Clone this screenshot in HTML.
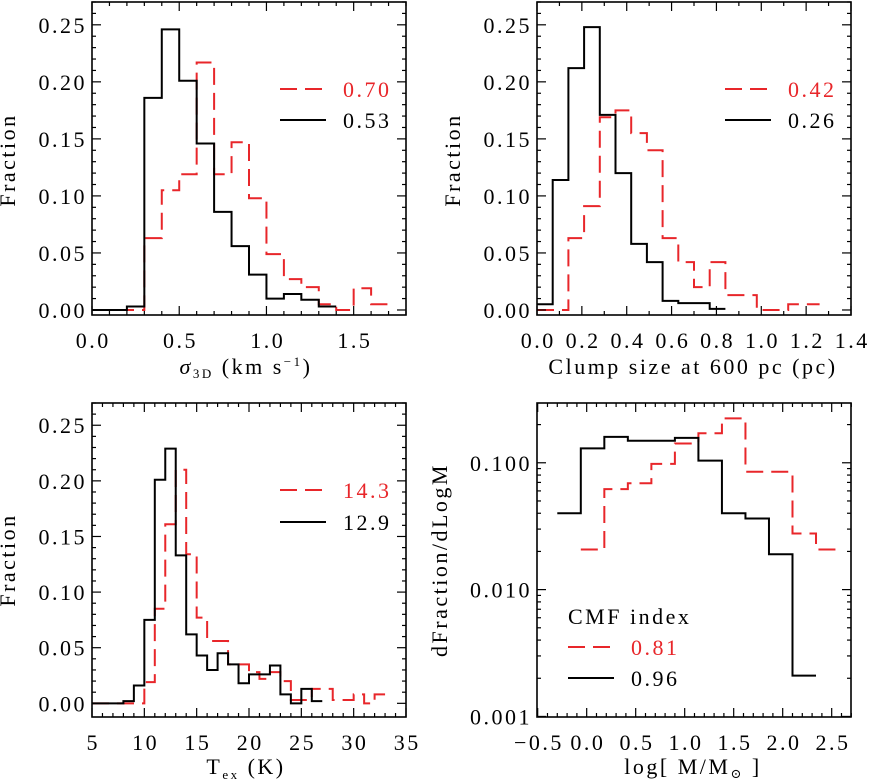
<!DOCTYPE html>
<html><head><meta charset="utf-8">
<style>
html,body{margin:0;padding:0;background:#fff;}
svg{display:block;font-family:"Liberation Serif","DejaVu Serif",serif;}
</style></head>
<body>
<svg id="fig" width="869" height="783" viewBox="0 0 869 783" xmlns="http://www.w3.org/2000/svg"></svg>
<script>
// Panel 1: sigma_3D
const p1Edges = [0.0,0.1,0.2,0.3,0.4,0.5,0.6,0.7,0.8,0.9,1.0,1.1,1.2,1.3,1.4,1.5,1.6,1.7];
const p1Black = [0,0,0.003,0.186,0.246,0.201,0.146,0.086,0.056,0.031,0.010,0.014,0.009,0.003,null,null,null];
const p1Red = [0,0,0,0.063,0.105,0.119,0.217,0.119,0.147,0.098,0.049,0.027,0.020,0.005,0,0.019,0.005];
const p1XTicks = ["0.0","0.5","1.0","1.5"];
const p1YTicks = ["0.00","0.05","0.10","0.15","0.20","0.25"];
// Panel 2: clump size
const p2Edges = [0,0.07,0.14,0.21,0.28,0.35,0.42,0.49,0.56,0.63,0.70,0.77,0.84,0.91,0.98,1.05,1.12,1.19,1.26];
const p2Black = [0.005,0.114,0.212,0.248,0.171,0.120,0.058,0.042,0.008,0.006,0.006,0.001,null,null,null,null,null,null];
const p2Red = [0,0,0.063,0.091,0.169,0.175,0.155,0.140,0.063,0.042,0.020,0.042,0.013,0.013,0,0,0.005,0.005];
const p2XTicks = ["0.0","0.2","0.4","0.6","0.8","1.0","1.2","1.4"];
// Panel 3: Tex
const p3Edges = [5,6,7,8,9,10,11,12,13,14,15,16,17,18,19,20,21,22,23,24,25,26,27,28,29,30,31,32,33];
const p3Black = [0,0,0,0.002,0.016,0.075,0.201,0.229,0.133,0.062,0.043,0.030,0.045,0.035,0.018,0.026,0.026,0.034,0.008,0,0.013,0.002,null,null,null,null,null,null];
const p3Red = [0,0,0,0,0,0.019,0.085,0.161,0.210,0.134,0.077,0.056,0.056,0.035,0.035,0.028,0.022,0.028,0.020,0.003,0.003,0.013,0.013,0.003,0.003,0.008,0,0.008];
const p3XTicks = ["5","10","15","20","25","30","35"];
// Panel 4: CMF
const p4Edges = [-0.30,-0.06,0.18,0.42,0.66,0.90,1.14,1.38,1.62,1.86,2.10,2.34,2.58];
const p4Black = [0.040,0.130,0.160,0.149,0.149,0.157,0.104,0.040,0.0364,0.019,0.0021,null];
const p4Red = [null,0.0207,0.062,0.069,0.098,0.142,0.171,0.224,0.085,0.085,0.0277,0.0207];
const p4XTicks = ["\u22120.5","0.0","0.5","1.0","1.5","2.0","2.5"];
const p4YTicks = ["0.001","0.010","0.100"];

const NS="http://www.w3.org/2000/svg";
const svg=document.getElementById('fig');
function mk(tag,attrs,parent){const e=document.createElementNS(NS,tag);for(const k in attrs)e.setAttribute(k,attrs[k]);(parent||svg).appendChild(e);return e;}
const RED="#e8262a";
const FS=22, LS=2.5;

function panel(o){
  const g=mk('g',{});
  
  
  const X=v=>o.x0+(v-o.xmin)/(o.xmax-o.xmin)*(o.x1-o.x0);
  const Y=o.log?(v=>o.y1-(Math.log10(v)-Math.log10(o.ymin))/(Math.log10(o.ymax)-Math.log10(o.ymin))*(o.y1-o.y0))
               :(v=>o.y1-(v-o.ymin)/(o.ymax-o.ymin)*(o.y1-o.y0));
  function hist(edges,vals,color,dash,nm){
    let d="",started=false;
    for(let i=0;i<vals.length;i++){
      const v=vals[i];
      if(v===null||v===undefined){started=false;continue;}
      const yy=o.log?Y(Math.max(v,o.ymin)):Y(v);
      if(!started){d+=`M${X(edges[i])},${yy}`;started=true;}
      else d+=`L${X(edges[i])},${yy}`;
      d+=`L${X(edges[i+1])},${yy}`;
    }
    const p=mk('path',{d:d,fill:'none',stroke:color,'stroke-width':2,'stroke-dasharray':dash||'none'},g);
    
    
  }
  hist(o.edges,o.red,RED,'17,8',o.name+'-red-series');
  hist(o.edges,o.black,'#000',null,o.name+'-black-series');
  const fr=mk('rect',{x:o.x0,y:o.y0,width:o.x1-o.x0,height:o.y1-o.y0,fill:'none',stroke:'#000','stroke-width':1.6},g);
  
  
  for(let v=o.xmin;v<=o.xmax+1e-9;v+=o.xminor){
    const vv=Math.round(v/o.xminor)*o.xminor;
    const maj=Math.abs(vv/o.xmajor-Math.round(vv/o.xmajor))<1e-6;
    const L=maj?9:4, xx=X(vv);
    mk('line',{x1:xx,x2:xx,y1:o.y1,y2:o.y1-L,stroke:'#000','stroke-width':1.2},g);
    mk('line',{x1:xx,x2:xx,y1:o.y0,y2:o.y0+L,stroke:'#000','stroke-width':1.2},g);
  }
  o.xticks.forEach((t,i)=>{
    const v=o.xtickStart+i*o.xmajor;
    const tx=mk('text',{x:X(v)+LS/2,y:o.y1+33,'font-size':FS,'letter-spacing':LS,'text-anchor':'middle',fill:'#000'},g);
    tx.textContent=t;
    
    
  });
  if(!o.log){
    for(let v=0;v<=o.ymax+1e-9;v+=0.01){
      const maj=Math.abs(v/0.05-Math.round(v/0.05))<1e-6, L=maj?9:4, yy=Y(v);
      mk('line',{x1:o.x0,x2:o.x0+L,y1:yy,y2:yy,stroke:'#000','stroke-width':1.2},g);
      mk('line',{x1:o.x1,x2:o.x1-L,y1:yy,y2:yy,stroke:'#000','stroke-width':1.2},g);
    }
  } else {
    for(let dec=0.001;dec<1;dec*=10){
      for(let m=1;m<10;m++){
        const v=dec*m; if(v>o.ymax||v<o.ymin*0.999)continue;
        const L=m==1?9:4, yy=Y(v);
        mk('line',{x1:o.x0,x2:o.x0+L,y1:yy,y2:yy,stroke:'#000','stroke-width':1.2},g);
        mk('line',{x1:o.x1,x2:o.x1-L,y1:yy,y2:yy,stroke:'#000','stroke-width':1.2},g);
      }
    }
  }
  o.yticks.forEach((t,i)=>{
    const v=o.log?0.001*Math.pow(10,i):i*0.05;
    const ty=mk('text',{x:o.x0-5,y:Y(v)+8,'font-size':FS,'letter-spacing':LS,'text-anchor':'end',fill:'#000'},g);
    ty.textContent=t;
    
    
  });
  const yt=mk('text',{x:0,y:0,'font-size':FS,'letter-spacing':LS,'text-anchor':'middle',fill:'#000',transform:`translate(${o.ytx},${o.yty}) rotate(-90)`},g);
  yt.textContent=o.ytitle;
  
  
  return {g,X,Y};
}

function xtitle(g,x,y,html){
  const t=mk('text',{x:x,y:y,'font-size':FS,'letter-spacing':LS,'text-anchor':'middle',fill:'#000'},g);
  t.innerHTML=html;
  
  
}
function legend(g,x,y,label,color,dash,nm){
  const l=mk('line',{x1:x,x2:x+46,y1:y,y2:y,stroke:color,'stroke-width':2,'stroke-dasharray':dash||'none'},g);
  
  
  const t=mk('text',{x:x+63,y:y+8,'font-size':FS,'letter-spacing':LS,fill:color},g);
  t.textContent=label;
  
  
}

const P1=panel({name:'sigma-panel',x0:92,x1:406,y0:2,y1:315,xmin:0,xmax:1.8,ymin:-0.0044,ymax:0.27,xminor:0.1,xmajor:0.5,xtickStart:0,
  edges:p1Edges,black:p1Black,red:p1Red,xticks:p1XTicks,yticks:p1YTicks,ytitle:'Fraction',ytx:15,yty:160});
xtitle(P1.g,246,374,'<tspan font-style="italic">σ</tspan><tspan font-size="13" dy="4">3D</tspan><tspan dy="-4"> (km s</tspan><tspan font-size="13" dy="-8">−1</tspan><tspan dy="8">)</tspan>');
legend(P1.g,280,89,'0.70',RED,'17,8','legend-red');
legend(P1.g,280,120,'0.53','#000',null,'legend-black');

const P2=panel({name:'clump-size-panel',x0:537,x1:851,y0:2,y1:315,xmin:0,xmax:1.4,ymin:-0.0044,ymax:0.27,xminor:0.1,xmajor:0.2,xtickStart:0,
  edges:p2Edges,black:p2Black,red:p2Red,xticks:p2XTicks,yticks:p1YTicks,ytitle:'Fraction',ytx:460,yty:160});
xtitle(P2.g,693,374,'Clump size at 600 pc (pc)');
legend(P2.g,725,89,'0.42',RED,'17,8','legend-red');
legend(P2.g,725,120,'0.26','#000',null,'legend-black');

const P3=panel({name:'tex-panel',x0:92,x1:406,y0:403,y1:717,xmin:5,xmax:35,ymin:-0.0123,ymax:0.27,xminor:1,xmajor:5,xtickStart:5,
  edges:p3Edges,black:p3Black,red:p3Red,xticks:p3XTicks,yticks:p1YTicks,ytitle:'Fraction',ytx:15,yty:560});
xtitle(P3.g,246,774,'T<tspan font-size="13" dy="5">ex</tspan><tspan dy="-5"> (K)</tspan>');
legend(P3.g,280,490,'14.3',RED,'17,8','legend-red');
legend(P3.g,280,522,'12.9','#000',null,'legend-black');

const P4=panel({name:'cmf-panel',x0:537,x1:851,y0:403,y1:717,xmin:-0.507,xmax:2.697,ymin:0.00099,ymax:0.296,log:true,xminor:0.1,xmajor:0.5,xtickStart:-0.5,
  edges:p4Edges,black:p4Black,red:p4Red,xticks:p4XTicks,yticks:p4YTicks,ytitle:'dFraction/dLogM',ytx:447,yty:560});
xtitle(P4.g,693,774,'log[ M/M<tspan font-size="13" dy="4">⊙</tspan><tspan dy="-4"> ]</tspan>');
const cmf=mk('text',{x:568,y:624,'font-size':FS,'letter-spacing':LS,fill:'#000'},P4.g);
cmf.textContent='CMF index';


legend(P4.g,568,647,'0.81',RED,'17,8','legend-red');
legend(P4.g,568,678,'0.96','#000',null,'legend-black');
</script>
</body></html>
